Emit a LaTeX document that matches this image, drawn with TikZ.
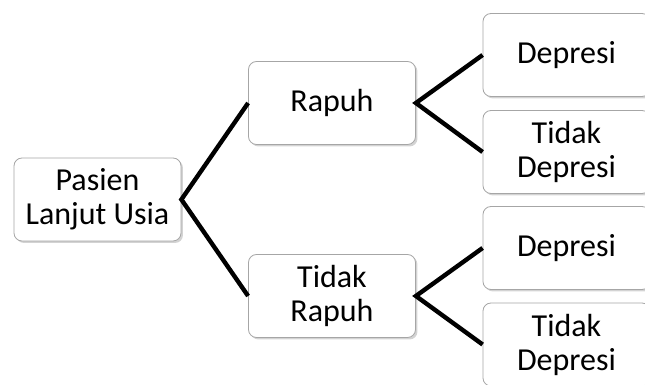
\documentclass[tikz,border=0pt]{standalone}
\usepackage{fontspec}
\setmainfont{Carlito}
\usetikzlibrary{shadows}

\begin{document}
\begin{tikzpicture}[x=0.5pt,y=-0.5pt,
every node/.style={font=\fontsize{16}{17}\selectfont},
box/.style={draw=gray!70,fill=white,rounded corners=4pt,
  minimum width=83.5pt,minimum height=41.5pt,align=center,inner sep=1pt,
  drop shadow={shadow xshift=1pt,shadow yshift=-1pt,opacity=0.35,fill=gray}},
link/.style={line width=2.2pt}]
\useasboundingbox (0,0) rectangle (645,385);
\clip (0,0) rectangle (645,385);
\node [box] (pasien) at (97.5,199.5) {Pasien\\Lanjut Usia};
\node [box] (rapuh)  at (332,103)    {Rapuh};
\node [box] (trapuh) at (332,296)    {Tidak\\Rapuh};
\node [box] (dep1)   at (566.5,55)   {Depresi};
\node [box] (tdep1)  at (566.5,152)  {Tidak\\Depresi};
\node [box] (dep2)   at (566.5,248)  {Depresi};
\node [box] (tdep2)  at (566.5,344.5) {Tidak\\Depresi};
\draw [link] (rapuh.west) -- (pasien.east) -- (trapuh.west);
\draw [link] (dep1.west) -- (rapuh.east) -- (tdep1.west);
\draw [link] (dep2.west) -- (trapuh.east) -- (tdep2.west);
\end{tikzpicture}
\end{document}
